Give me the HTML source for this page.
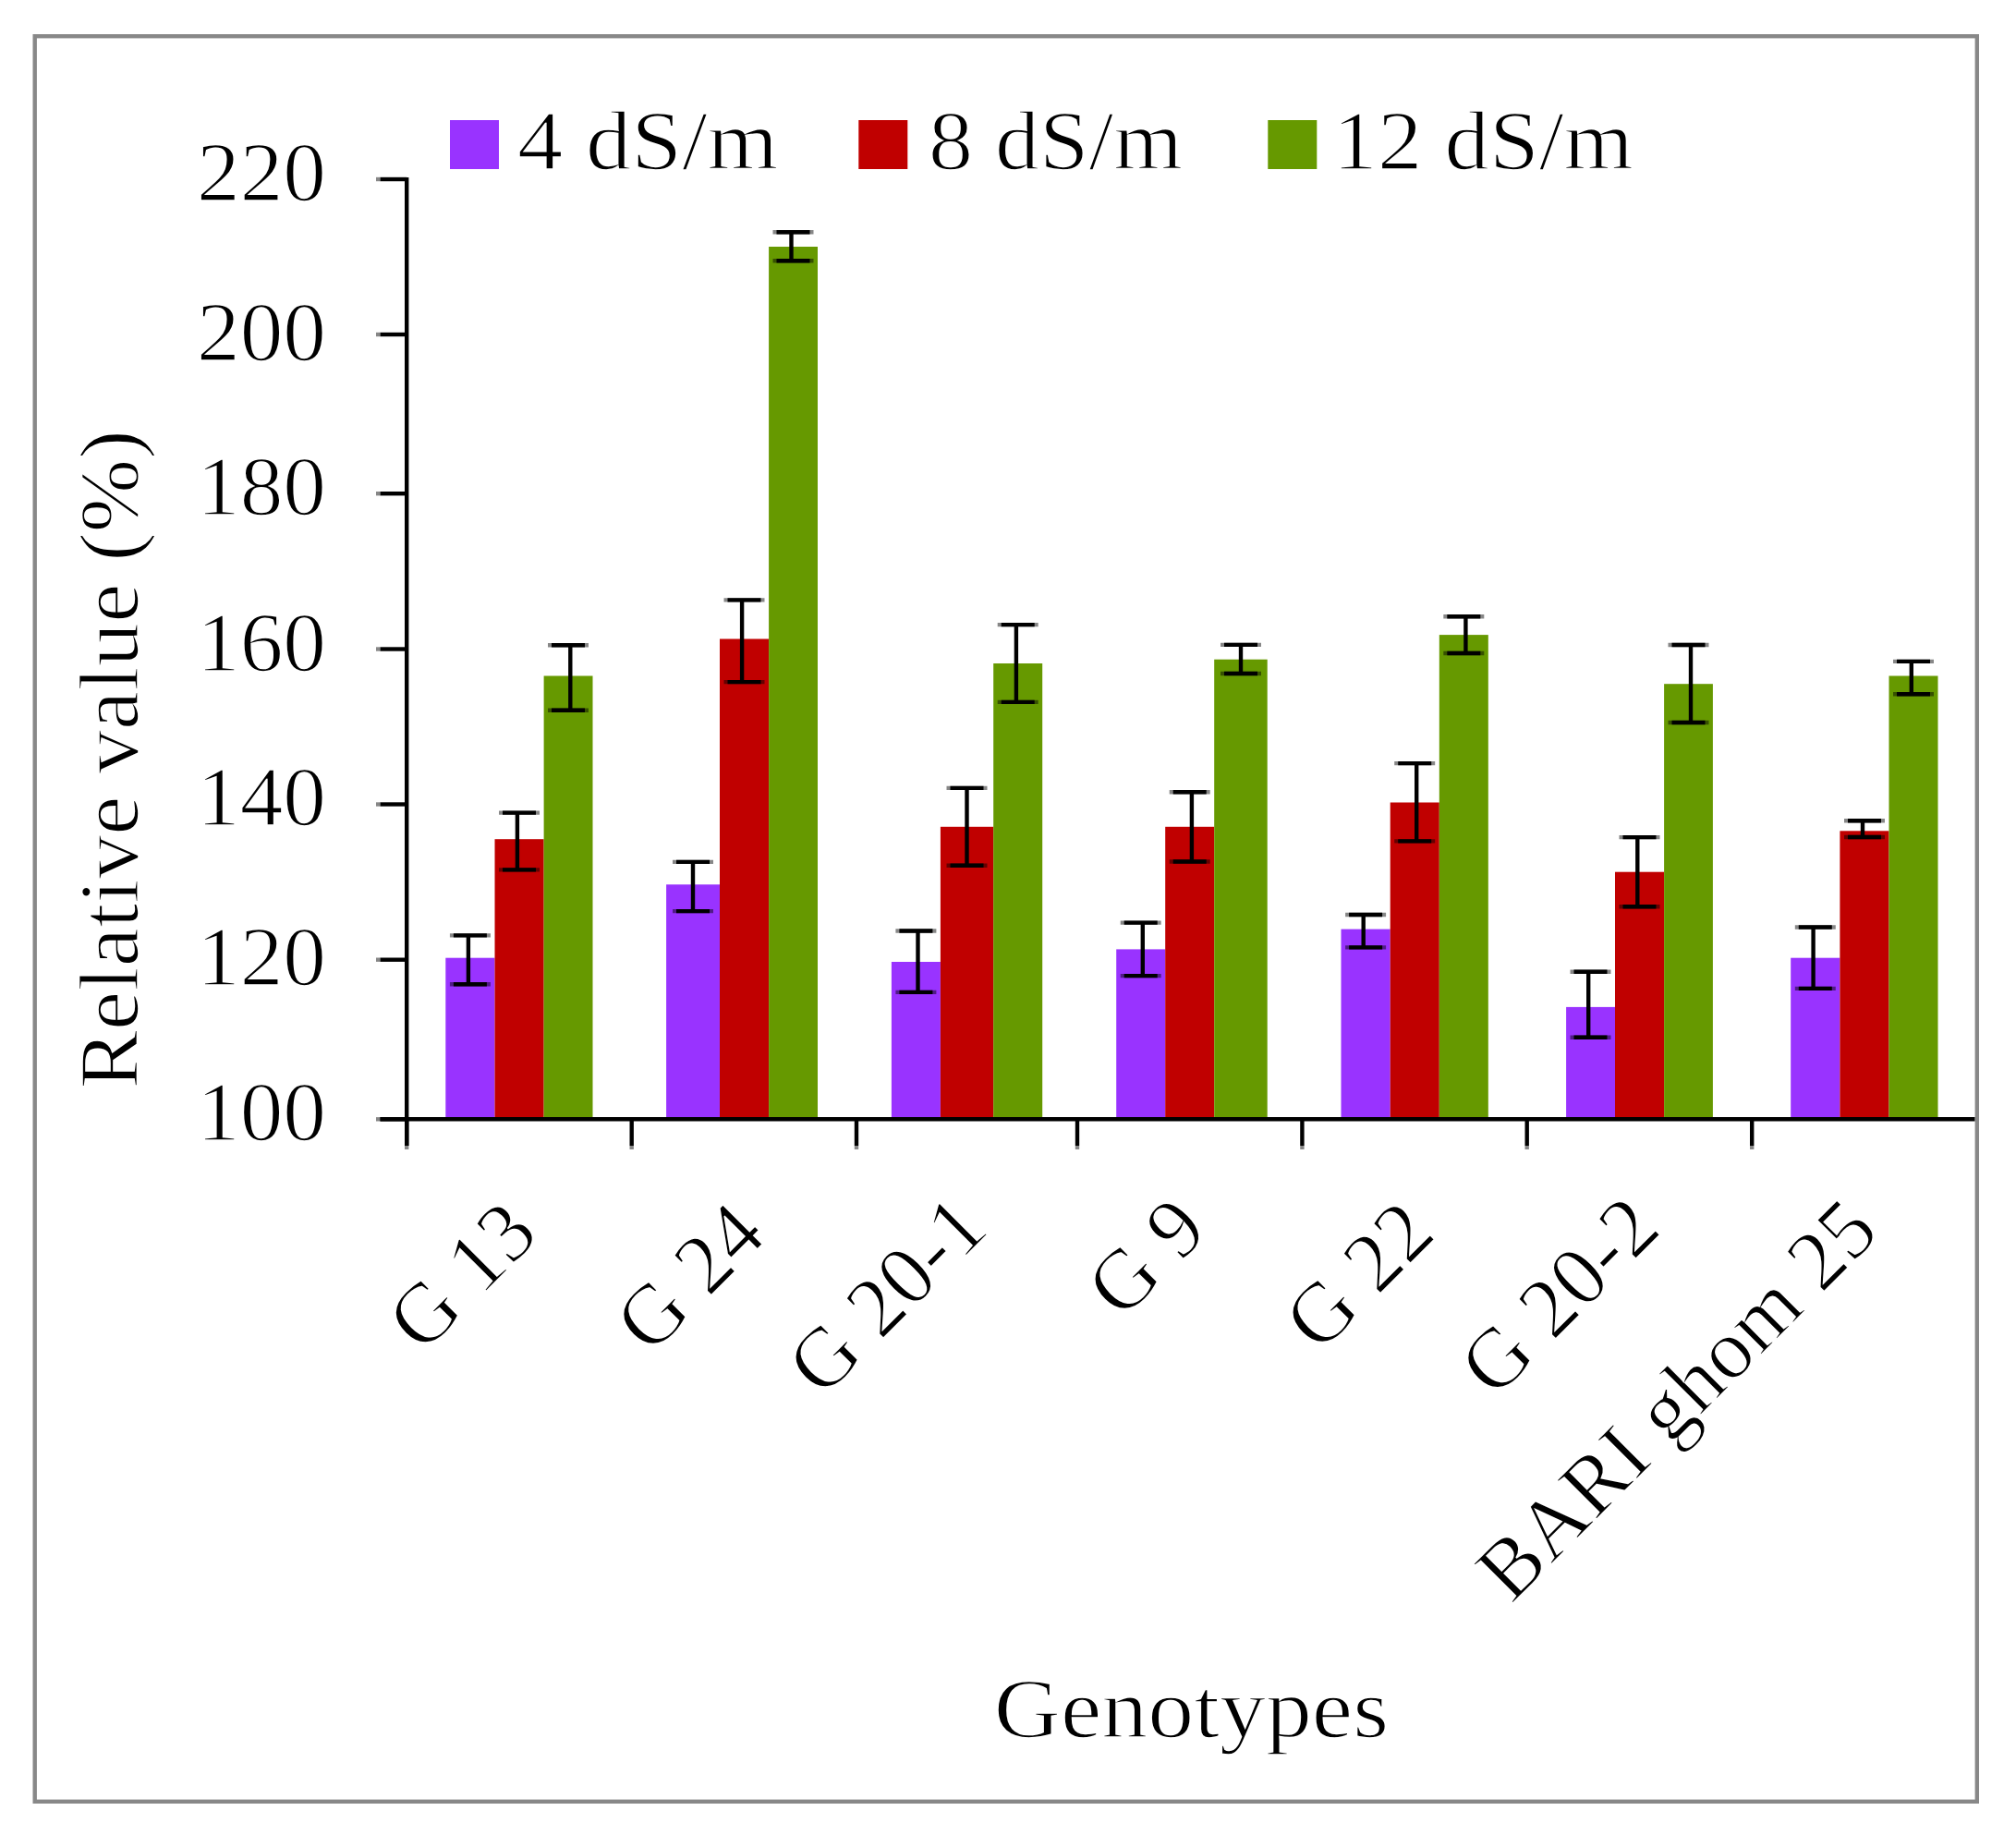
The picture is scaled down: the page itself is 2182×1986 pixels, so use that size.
<!DOCTYPE html>
<html><head><meta charset="utf-8"><title>Relative value chart</title>
<style>
html,body{margin:0;padding:0;background:#fff;}
body{width:2182px;height:1986px;overflow:hidden;}
svg{display:block;}
text{font-family:"Liberation Serif", serif;fill:#000;stroke:#fff;stroke-width:1.6px;}
</style></head><body>
<svg width="2182" height="1986" viewBox="0 0 2182 1986">
<rect x="0" y="0" width="2182" height="1986" fill="#ffffff"/>
<rect x="37.7" y="39.2" width="2102.1" height="1910.6" fill="none" stroke="#888888" stroke-width="4.4"/>
<rect x="482.3" y="1036.7" width="53.2" height="174.6" fill="#9933ff"/>
<rect x="535.5" y="908.2" width="53.1" height="303.1" fill="#c00000"/>
<rect x="588.6" y="731.5" width="52.9" height="479.8" fill="#669900"/>
<rect x="721.1" y="957.3" width="57.9" height="254.0" fill="#9933ff"/>
<rect x="779.0" y="691.5" width="53.1" height="519.8" fill="#c00000"/>
<rect x="832.1" y="267" width="52.9" height="944.3" fill="#669900"/>
<rect x="964.9" y="1041" width="53.0" height="170.3" fill="#9933ff"/>
<rect x="1017.9" y="894.8" width="57.3" height="316.5" fill="#c00000"/>
<rect x="1075.2" y="718" width="53.0" height="493.3" fill="#669900"/>
<rect x="1208.2" y="1027.4" width="53.0" height="183.9" fill="#9933ff"/>
<rect x="1261.2" y="894.8" width="53.0" height="316.5" fill="#c00000"/>
<rect x="1314.2" y="713.7" width="57.5" height="497.6" fill="#669900"/>
<rect x="1451.5" y="1005.6" width="53.2" height="205.7" fill="#9933ff"/>
<rect x="1504.7" y="868.5" width="53.1" height="342.8" fill="#c00000"/>
<rect x="1557.8" y="687.1" width="53.0" height="524.2" fill="#669900"/>
<rect x="1695.1" y="1089.9" width="52.9" height="121.4" fill="#9933ff"/>
<rect x="1748.0" y="943.7" width="53.1" height="267.6" fill="#c00000"/>
<rect x="1801.1" y="740.2" width="52.8" height="471.1" fill="#669900"/>
<rect x="1938.2" y="1036.7" width="53.2" height="174.6" fill="#9933ff"/>
<rect x="1991.4" y="899.3" width="53.1" height="312.0" fill="#c00000"/>
<rect x="2044.5" y="731.5" width="53.0" height="479.8" fill="#669900"/>
<line x1="506.9" y1="1012.4" x2="506.9" y2="1065.3" stroke="#000" stroke-width="4.4"/>
<line x1="486.9" y1="1012.4" x2="530.9" y2="1012.4" stroke="#000" stroke-opacity="0.47" stroke-width="4.4"/>
<line x1="490.9" y1="1012.4" x2="526.9" y2="1012.4" stroke="#000" stroke-width="4.4"/>
<line x1="486.9" y1="1065.3" x2="530.9" y2="1065.3" stroke="#000" stroke-opacity="0.47" stroke-width="4.4"/>
<line x1="490.9" y1="1065.3" x2="526.9" y2="1065.3" stroke="#000" stroke-width="4.4"/>
<line x1="559.9" y1="879.6" x2="559.9" y2="941.4" stroke="#000" stroke-width="4.4"/>
<line x1="540.0" y1="879.6" x2="584.0" y2="879.6" stroke="#000" stroke-opacity="0.47" stroke-width="4.4"/>
<line x1="544.0" y1="879.6" x2="580.0" y2="879.6" stroke="#000" stroke-width="4.4"/>
<line x1="540.0" y1="941.4" x2="584.0" y2="941.4" stroke="#000" stroke-opacity="0.47" stroke-width="4.4"/>
<line x1="544.0" y1="941.4" x2="580.0" y2="941.4" stroke="#000" stroke-width="4.4"/>
<line x1="617.3" y1="698.3" x2="617.3" y2="768.8" stroke="#000" stroke-width="4.4"/>
<line x1="593.0" y1="698.3" x2="637.0" y2="698.3" stroke="#000" stroke-opacity="0.47" stroke-width="4.4"/>
<line x1="597.0" y1="698.3" x2="633.0" y2="698.3" stroke="#000" stroke-width="4.4"/>
<line x1="593.0" y1="768.8" x2="637.0" y2="768.8" stroke="#000" stroke-opacity="0.47" stroke-width="4.4"/>
<line x1="597.0" y1="768.8" x2="633.0" y2="768.8" stroke="#000" stroke-width="4.4"/>
<line x1="750.0" y1="932.9" x2="750.0" y2="986.1" stroke="#000" stroke-width="4.4"/>
<line x1="728.0" y1="932.9" x2="772.0" y2="932.9" stroke="#000" stroke-opacity="0.47" stroke-width="4.4"/>
<line x1="732.0" y1="932.9" x2="768.0" y2="932.9" stroke="#000" stroke-width="4.4"/>
<line x1="728.0" y1="986.1" x2="772.0" y2="986.1" stroke="#000" stroke-opacity="0.47" stroke-width="4.4"/>
<line x1="732.0" y1="986.1" x2="768.0" y2="986.1" stroke="#000" stroke-width="4.4"/>
<line x1="803.1" y1="649.4" x2="803.1" y2="738.1" stroke="#000" stroke-width="4.4"/>
<line x1="783.5" y1="649.4" x2="827.5" y2="649.4" stroke="#000" stroke-opacity="0.47" stroke-width="4.4"/>
<line x1="787.5" y1="649.4" x2="823.5" y2="649.4" stroke="#000" stroke-width="4.4"/>
<line x1="783.5" y1="738.1" x2="827.5" y2="738.1" stroke="#000" stroke-opacity="0.47" stroke-width="4.4"/>
<line x1="787.5" y1="738.1" x2="823.5" y2="738.1" stroke="#000" stroke-width="4.4"/>
<line x1="856.5" y1="251.3" x2="856.5" y2="282.3" stroke="#000" stroke-width="4.4"/>
<line x1="836.5" y1="251.3" x2="880.5" y2="251.3" stroke="#000" stroke-opacity="0.47" stroke-width="4.4"/>
<line x1="840.5" y1="251.3" x2="876.5" y2="251.3" stroke="#000" stroke-width="4.4"/>
<line x1="836.5" y1="282.3" x2="880.5" y2="282.3" stroke="#000" stroke-opacity="0.47" stroke-width="4.4"/>
<line x1="840.5" y1="282.3" x2="876.5" y2="282.3" stroke="#000" stroke-width="4.4"/>
<line x1="993.5" y1="1007.5" x2="993.5" y2="1073.9" stroke="#000" stroke-width="4.4"/>
<line x1="969.4" y1="1007.5" x2="1013.4" y2="1007.5" stroke="#000" stroke-opacity="0.47" stroke-width="4.4"/>
<line x1="973.4" y1="1007.5" x2="1009.4" y2="1007.5" stroke="#000" stroke-width="4.4"/>
<line x1="969.4" y1="1073.9" x2="1013.4" y2="1073.9" stroke="#000" stroke-opacity="0.47" stroke-width="4.4"/>
<line x1="973.4" y1="1073.9" x2="1009.4" y2="1073.9" stroke="#000" stroke-width="4.4"/>
<line x1="1046.5" y1="852.9" x2="1046.5" y2="936.8" stroke="#000" stroke-width="4.4"/>
<line x1="1024.5" y1="852.9" x2="1068.5" y2="852.9" stroke="#000" stroke-opacity="0.47" stroke-width="4.4"/>
<line x1="1028.5" y1="852.9" x2="1064.5" y2="852.9" stroke="#000" stroke-width="4.4"/>
<line x1="1024.5" y1="936.8" x2="1068.5" y2="936.8" stroke="#000" stroke-opacity="0.47" stroke-width="4.4"/>
<line x1="1028.5" y1="936.8" x2="1064.5" y2="936.8" stroke="#000" stroke-width="4.4"/>
<line x1="1099.9" y1="676.1" x2="1099.9" y2="759.9" stroke="#000" stroke-width="4.4"/>
<line x1="1079.7" y1="676.1" x2="1123.7" y2="676.1" stroke="#000" stroke-opacity="0.47" stroke-width="4.4"/>
<line x1="1083.7" y1="676.1" x2="1119.7" y2="676.1" stroke="#000" stroke-width="4.4"/>
<line x1="1079.7" y1="759.9" x2="1123.7" y2="759.9" stroke="#000" stroke-opacity="0.47" stroke-width="4.4"/>
<line x1="1083.7" y1="759.9" x2="1119.7" y2="759.9" stroke="#000" stroke-width="4.4"/>
<line x1="1236.8" y1="998.6" x2="1236.8" y2="1056.1" stroke="#000" stroke-width="4.4"/>
<line x1="1212.7" y1="998.6" x2="1256.7" y2="998.6" stroke="#000" stroke-opacity="0.47" stroke-width="4.4"/>
<line x1="1216.7" y1="998.6" x2="1252.7" y2="998.6" stroke="#000" stroke-width="4.4"/>
<line x1="1212.7" y1="1056.1" x2="1256.7" y2="1056.1" stroke="#000" stroke-opacity="0.47" stroke-width="4.4"/>
<line x1="1216.7" y1="1056.1" x2="1252.7" y2="1056.1" stroke="#000" stroke-width="4.4"/>
<line x1="1289.9" y1="857.2" x2="1289.9" y2="932.5" stroke="#000" stroke-width="4.4"/>
<line x1="1265.7" y1="857.2" x2="1309.7" y2="857.2" stroke="#000" stroke-opacity="0.47" stroke-width="4.4"/>
<line x1="1269.7" y1="857.2" x2="1305.7" y2="857.2" stroke="#000" stroke-width="4.4"/>
<line x1="1265.7" y1="932.5" x2="1309.7" y2="932.5" stroke="#000" stroke-opacity="0.47" stroke-width="4.4"/>
<line x1="1269.7" y1="932.5" x2="1305.7" y2="932.5" stroke="#000" stroke-width="4.4"/>
<line x1="1343.0" y1="697.9" x2="1343.0" y2="729" stroke="#000" stroke-width="4.4"/>
<line x1="1321.0" y1="697.9" x2="1365.0" y2="697.9" stroke="#000" stroke-opacity="0.47" stroke-width="4.4"/>
<line x1="1325.0" y1="697.9" x2="1361.0" y2="697.9" stroke="#000" stroke-width="4.4"/>
<line x1="1321.0" y1="729" x2="1365.0" y2="729" stroke="#000" stroke-opacity="0.47" stroke-width="4.4"/>
<line x1="1325.0" y1="729" x2="1361.0" y2="729" stroke="#000" stroke-width="4.4"/>
<line x1="1475.7" y1="990" x2="1475.7" y2="1025.4" stroke="#000" stroke-width="4.4"/>
<line x1="1456.1" y1="990" x2="1500.1" y2="990" stroke="#000" stroke-opacity="0.47" stroke-width="4.4"/>
<line x1="1460.1" y1="990" x2="1496.1" y2="990" stroke="#000" stroke-width="4.4"/>
<line x1="1456.1" y1="1025.4" x2="1500.1" y2="1025.4" stroke="#000" stroke-opacity="0.47" stroke-width="4.4"/>
<line x1="1460.1" y1="1025.4" x2="1496.1" y2="1025.4" stroke="#000" stroke-width="4.4"/>
<line x1="1533.2" y1="826.1" x2="1533.2" y2="910.4" stroke="#000" stroke-width="4.4"/>
<line x1="1509.2" y1="826.1" x2="1553.2" y2="826.1" stroke="#000" stroke-opacity="0.47" stroke-width="4.4"/>
<line x1="1513.2" y1="826.1" x2="1549.2" y2="826.1" stroke="#000" stroke-width="4.4"/>
<line x1="1509.2" y1="910.4" x2="1553.2" y2="910.4" stroke="#000" stroke-opacity="0.47" stroke-width="4.4"/>
<line x1="1513.2" y1="910.4" x2="1549.2" y2="910.4" stroke="#000" stroke-width="4.4"/>
<line x1="1586.4" y1="667.2" x2="1586.4" y2="707" stroke="#000" stroke-width="4.4"/>
<line x1="1562.3" y1="667.2" x2="1606.3" y2="667.2" stroke="#000" stroke-opacity="0.47" stroke-width="4.4"/>
<line x1="1566.3" y1="667.2" x2="1602.3" y2="667.2" stroke="#000" stroke-width="4.4"/>
<line x1="1562.3" y1="707" x2="1606.3" y2="707" stroke="#000" stroke-opacity="0.47" stroke-width="4.4"/>
<line x1="1566.3" y1="707" x2="1602.3" y2="707" stroke="#000" stroke-width="4.4"/>
<line x1="1719.2" y1="1051.8" x2="1719.2" y2="1122.7" stroke="#000" stroke-width="4.4"/>
<line x1="1699.5" y1="1051.8" x2="1743.5" y2="1051.8" stroke="#000" stroke-opacity="0.47" stroke-width="4.4"/>
<line x1="1703.5" y1="1051.8" x2="1739.5" y2="1051.8" stroke="#000" stroke-width="4.4"/>
<line x1="1699.5" y1="1122.7" x2="1743.5" y2="1122.7" stroke="#000" stroke-opacity="0.47" stroke-width="4.4"/>
<line x1="1703.5" y1="1122.7" x2="1739.5" y2="1122.7" stroke="#000" stroke-width="4.4"/>
<line x1="1772.3" y1="906.1" x2="1772.3" y2="981.3" stroke="#000" stroke-width="4.4"/>
<line x1="1752.5" y1="906.1" x2="1796.5" y2="906.1" stroke="#000" stroke-opacity="0.47" stroke-width="4.4"/>
<line x1="1756.5" y1="906.1" x2="1792.5" y2="906.1" stroke="#000" stroke-width="4.4"/>
<line x1="1752.5" y1="981.3" x2="1796.5" y2="981.3" stroke="#000" stroke-opacity="0.47" stroke-width="4.4"/>
<line x1="1756.5" y1="981.3" x2="1792.5" y2="981.3" stroke="#000" stroke-width="4.4"/>
<line x1="1830.0" y1="698" x2="1830.0" y2="782" stroke="#000" stroke-width="4.4"/>
<line x1="1805.5" y1="698" x2="1849.5" y2="698" stroke="#000" stroke-opacity="0.47" stroke-width="4.4"/>
<line x1="1809.5" y1="698" x2="1845.5" y2="698" stroke="#000" stroke-width="4.4"/>
<line x1="1805.5" y1="782" x2="1849.5" y2="782" stroke="#000" stroke-opacity="0.47" stroke-width="4.4"/>
<line x1="1809.5" y1="782" x2="1845.5" y2="782" stroke="#000" stroke-width="4.4"/>
<line x1="1962.6" y1="1003.5" x2="1962.6" y2="1069.9" stroke="#000" stroke-width="4.4"/>
<line x1="1942.8" y1="1003.5" x2="1986.8" y2="1003.5" stroke="#000" stroke-opacity="0.47" stroke-width="4.4"/>
<line x1="1946.8" y1="1003.5" x2="1982.8" y2="1003.5" stroke="#000" stroke-width="4.4"/>
<line x1="1942.8" y1="1069.9" x2="1986.8" y2="1069.9" stroke="#000" stroke-opacity="0.47" stroke-width="4.4"/>
<line x1="1946.8" y1="1069.9" x2="1982.8" y2="1069.9" stroke="#000" stroke-width="4.4"/>
<line x1="2016.0" y1="888.3" x2="2016.0" y2="906" stroke="#000" stroke-width="4.4"/>
<line x1="1996.0" y1="888.3" x2="2040.0" y2="888.3" stroke="#000" stroke-opacity="0.47" stroke-width="4.4"/>
<line x1="2000.0" y1="888.3" x2="2036.0" y2="888.3" stroke="#000" stroke-width="4.4"/>
<line x1="1996.0" y1="906" x2="2040.0" y2="906" stroke="#000" stroke-opacity="0.47" stroke-width="4.4"/>
<line x1="2000.0" y1="906" x2="2036.0" y2="906" stroke="#000" stroke-width="4.4"/>
<line x1="2068.8" y1="715.9" x2="2068.8" y2="751.2" stroke="#000" stroke-width="4.4"/>
<line x1="2049.0" y1="715.9" x2="2093.0" y2="715.9" stroke="#000" stroke-opacity="0.47" stroke-width="4.4"/>
<line x1="2053.0" y1="715.9" x2="2089.0" y2="715.9" stroke="#000" stroke-width="4.4"/>
<line x1="2049.0" y1="751.2" x2="2093.0" y2="751.2" stroke="#000" stroke-opacity="0.47" stroke-width="4.4"/>
<line x1="2053.0" y1="751.2" x2="2089.0" y2="751.2" stroke="#000" stroke-width="4.4"/>
<line x1="440.2" y1="192" x2="440.2" y2="1240" stroke="#000" stroke-width="4.4"/>
<line x1="411.5" y1="1211.3" x2="2137.5" y2="1211.3" stroke="#000" stroke-width="4.4"/>
<line x1="407" y1="194" x2="411.5" y2="194" stroke="#000" stroke-opacity="0.47" stroke-width="4.4"/>
<line x1="411.5" y1="194" x2="440.2" y2="194" stroke="#000" stroke-width="4.4"/>
<line x1="407" y1="362" x2="411.5" y2="362" stroke="#000" stroke-opacity="0.47" stroke-width="4.4"/>
<line x1="411.5" y1="362" x2="440.2" y2="362" stroke="#000" stroke-width="4.4"/>
<line x1="407" y1="534.2" x2="411.5" y2="534.2" stroke="#000" stroke-opacity="0.47" stroke-width="4.4"/>
<line x1="411.5" y1="534.2" x2="440.2" y2="534.2" stroke="#000" stroke-width="4.4"/>
<line x1="407" y1="702.5" x2="411.5" y2="702.5" stroke="#000" stroke-opacity="0.47" stroke-width="4.4"/>
<line x1="411.5" y1="702.5" x2="440.2" y2="702.5" stroke="#000" stroke-width="4.4"/>
<line x1="407" y1="870.5" x2="411.5" y2="870.5" stroke="#000" stroke-opacity="0.47" stroke-width="4.4"/>
<line x1="411.5" y1="870.5" x2="440.2" y2="870.5" stroke="#000" stroke-width="4.4"/>
<line x1="407" y1="1038.7" x2="411.5" y2="1038.7" stroke="#000" stroke-opacity="0.47" stroke-width="4.4"/>
<line x1="411.5" y1="1038.7" x2="440.2" y2="1038.7" stroke="#000" stroke-width="4.4"/>
<line x1="407" y1="1211.3" x2="411.5" y2="1211.3" stroke="#000" stroke-opacity="0.47" stroke-width="4.4"/>
<line x1="411.5" y1="1211.3" x2="440.2" y2="1211.3" stroke="#000" stroke-width="4.4"/>
<line x1="440.2" y1="1240" x2="440.2" y2="1244" stroke="#000" stroke-opacity="0.47" stroke-width="4.4"/>
<line x1="440.2" y1="1211.3" x2="440.2" y2="1240" stroke="#000" stroke-width="4.4"/>
<line x1="683.7" y1="1240" x2="683.7" y2="1244" stroke="#000" stroke-opacity="0.47" stroke-width="4.4"/>
<line x1="683.7" y1="1211.3" x2="683.7" y2="1240" stroke="#000" stroke-width="4.4"/>
<line x1="927" y1="1240" x2="927" y2="1244" stroke="#000" stroke-opacity="0.47" stroke-width="4.4"/>
<line x1="927" y1="1211.3" x2="927" y2="1240" stroke="#000" stroke-width="4.4"/>
<line x1="1166" y1="1240" x2="1166" y2="1244" stroke="#000" stroke-opacity="0.47" stroke-width="4.4"/>
<line x1="1166" y1="1211.3" x2="1166" y2="1240" stroke="#000" stroke-width="4.4"/>
<line x1="1409.4" y1="1240" x2="1409.4" y2="1244" stroke="#000" stroke-opacity="0.47" stroke-width="4.4"/>
<line x1="1409.4" y1="1211.3" x2="1409.4" y2="1240" stroke="#000" stroke-width="4.4"/>
<line x1="1652.7" y1="1240" x2="1652.7" y2="1244" stroke="#000" stroke-opacity="0.47" stroke-width="4.4"/>
<line x1="1652.7" y1="1211.3" x2="1652.7" y2="1240" stroke="#000" stroke-width="4.4"/>
<line x1="1896.2" y1="1240" x2="1896.2" y2="1244" stroke="#000" stroke-opacity="0.47" stroke-width="4.4"/>
<line x1="1896.2" y1="1211.3" x2="1896.2" y2="1240" stroke="#000" stroke-width="4.4"/>
<text x="353" y="216.8" text-anchor="end" font-size="92" textLength="140" lengthAdjust="spacingAndGlyphs">220</text>
<text x="353" y="389.6" text-anchor="end" font-size="92" textLength="140" lengthAdjust="spacingAndGlyphs">200</text>
<text x="353" y="557.4" text-anchor="end" font-size="92" textLength="140" lengthAdjust="spacingAndGlyphs">180</text>
<text x="353" y="725.6" text-anchor="end" font-size="92" textLength="140" lengthAdjust="spacingAndGlyphs">160</text>
<text x="353" y="893.2" text-anchor="end" font-size="92" textLength="140" lengthAdjust="spacingAndGlyphs">140</text>
<text x="353" y="1066.2" text-anchor="end" font-size="92" textLength="140" lengthAdjust="spacingAndGlyphs">120</text>
<text x="353" y="1234.2" text-anchor="end" font-size="92" textLength="140" lengthAdjust="spacingAndGlyphs">100</text>
<rect x="487" y="130" width="53" height="53" fill="#9933ff"/>
<rect x="929.3" y="130" width="53" height="53" fill="#c00000"/>
<rect x="1372.3" y="130" width="53" height="53" fill="#669900"/>
<text x="560" y="183" font-size="92" textLength="282.3" lengthAdjust="spacingAndGlyphs">4 dS/m</text>
<text x="1005" y="183" font-size="92" textLength="274.9" lengthAdjust="spacingAndGlyphs">8 dS/m</text>
<text x="1442.5" y="183" font-size="92" textLength="325.4" lengthAdjust="spacingAndGlyphs">12 dS/m</text>
<text transform="translate(585.5,1338.1) rotate(-45)" text-anchor="end" font-size="92">G 13</text>
<text transform="translate(832.0,1339.6) rotate(-45)" text-anchor="end" font-size="92">G 24</text>
<text transform="translate(1072.5,1332.1) rotate(-45)" text-anchor="end" font-size="92">G 20-1</text>
<text transform="translate(1309.7,1334.3) rotate(-45)" text-anchor="end" font-size="92">G 9</text>
<text transform="translate(1556.3,1337.7) rotate(-45)" text-anchor="end" font-size="92">G 22</text>
<text transform="translate(1800.2,1332.7) rotate(-45)" text-anchor="end" font-size="92">G 20-2</text>
<text transform="translate(2036.6,1335.7) rotate(-45)" text-anchor="end" font-size="92">BARI ghom 25</text>
<text transform="translate(148.5,1178.4) rotate(-90)" font-size="92" textLength="713.2" lengthAdjust="spacingAndGlyphs">Relative value (%)</text>
<text x="1075.8" y="1880" font-size="92" textLength="427.3" lengthAdjust="spacingAndGlyphs">Genotypes</text>
</svg>
</body></html>
